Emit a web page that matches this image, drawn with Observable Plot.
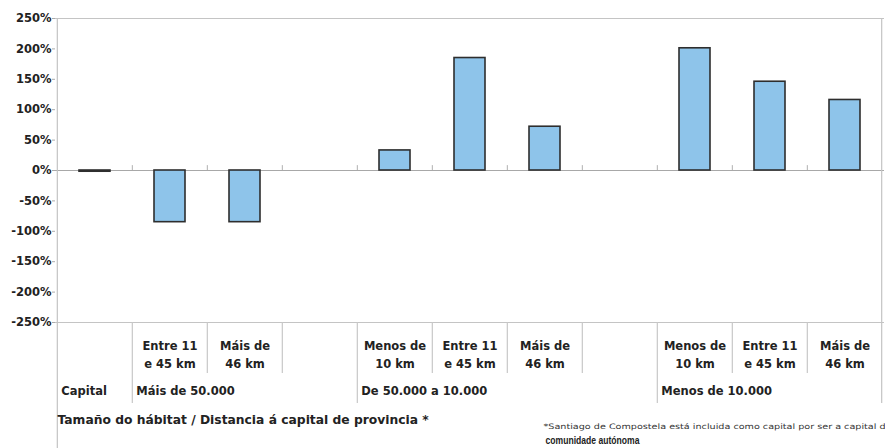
<!DOCTYPE html>
<html><head><meta charset="utf-8">
<script src="https://cdn.jsdelivr.net/npm/d3@7"></script>
<script src="https://cdn.jsdelivr.net/npm/@observablehq/plot@0.6"></script>
<style>body{margin:0;background:#fff} svg{display:block}</style>
</head><body><div id="chart"></div>
<script>
// ---- data ----
const slotIds = ["s0","s1","s2","s3","s4","s5","s6","s7","s8","s9","s10"];
const subLabels = ["", "Entre 11\ne 45 km", "Máis de\n46 km", "", "Menos de\n10 km", "Entre 11\ne 45 km", "Máis de\n46 km", "", "Menos de\n10 km", "Entre 11\ne 45 km", "Máis de\n46 km"];
const slotGroups = ["Capital", "Máis de 50.000", "Máis de 50.000", "Máis de 50.000", "De 50.000 a 10.000", "De 50.000 a 10.000", "De 50.000 a 10.000", "De 50.000 a 10.000", "Menos de 10.000", "Menos de 10.000", "Menos de 10.000"];
const values = [-0.02, -0.85, -0.85, null, 0.33, 1.85, 0.72, null, 2.01, 1.46, 1.16];
const yTicks = [2.5, 2, 1.5, 1, 0.5, 0, -0.5, -1, -1.5, -2, -2.5];
const axisTitle = "Tamaño do hábitat / Distancia á capital de provincia *";
const footnote1 = "*Santiago de Compostela está incluida como capital por ser a capital da";
const footnote2 = "comunidade autónoma";

// ---- layout ----
const W = 885, H = 448, mL = 55, mR = 1, mT = 18, mB = 126;
const step = (W - mL - mR) / slotIds.length;
const frameH = H - mT - mB;
const FONT = "DejaVu Sans, sans-serif";

const rows = slotIds.map((id, i) => ({id, label: subLabels[i], group: slotGroups[i], value: values[i]}));
const bars = rows.filter(d => d.value != null);
const groupStarts = rows.filter((d, i) => i === 0 || d.group !== rows[i - 1].group);
const longSeps = groupStarts.slice(1);
const shortSeps = rows.filter((d, i) => i > 0 && !longSeps.includes(d));

const chart = Plot.plot({
  width: W, height: H,
  marginLeft: mL, marginRight: mR, marginTop: mT, marginBottom: mB,
  style: {fontFamily: FONT, background: "#fff"},
  x: {type: "band", domain: slotIds, padding: 0, axis: null},
  y: {domain: [-2.5, 2.5], axis: null},
  marks: [
    // frame lines
    Plot.ruleY([2.5, -2.5], {stroke: "#c4c4c4", strokeWidth: 1.2}),
    Plot.ruleY([0], {stroke: "#a8a8a8", strokeWidth: 1.2}),
    Plot.ruleX([slotIds[0]], {dx: -step / 2, stroke: "#c4c4c4", strokeWidth: 1.2, insetBottom: -(H - mT - frameH)}),
    Plot.ruleX([slotIds[slotIds.length - 1]], {dx: step / 2 - 1, stroke: "#c4c4c4", strokeWidth: 1.2, insetBottom: -81}),
    // category ticks on zero line
    Plot.ruleX(rows.slice(1), {x: "id", dx: -step / 2, y1: 0, y2: 0.08, stroke: "#b0b0b0"}),
    // table separators below the plot
    Plot.ruleX(shortSeps, {x: "id", dx: -step / 2, stroke: "#c8c8c8", strokeWidth: 1.2, insetTop: frameH, insetBottom: -51}),
    Plot.ruleX(longSeps, {x: "id", dx: -step / 2, stroke: "#c8c8c8", strokeWidth: 1.2, insetTop: frameH, insetBottom: -81}),
    // bars
    Plot.barY(bars, {x: "id", y: "value", fill: "#8ec4ea", stroke: "#2e2e2e", strokeWidth: 1.6, insetLeft: 22, insetRight: 22}),
    // y axis
    Plot.axisY({ticks: yTicks, tickFormat: d => Math.round(d * 100) + "%", tickSize: 3, tickPadding: 1, stroke: "#aaa",
      fontSize: 11.5, fontWeight: "bold", fill: "#222", label: null}),
    // sub-category labels
    Plot.text(rows, {x: "id", text: "label", frameAnchor: "bottom", dy: 31, lineAnchor: "middle", lineHeight: 1.55,
      fontSize: 11.5, fontWeight: "bold", fill: "#222"}),
    // group labels
    Plot.text(groupStarts, {x: "id", text: "group", frameAnchor: "bottom", textAnchor: "start", dx: -step / 2 + 4, dy: 72,
      fontSize: 11.5, fontWeight: "bold", fill: "#222"}),
    // axis title
    Plot.text([axisTitle], {text: d => d, frameAnchor: "bottom-left", textAnchor: "start", dx: 2, dy: 101,
      fontSize: 12.3, fontWeight: "bold", fill: "#222"}),
    // footnote
    Plot.text([footnote1], {text: d => d, frameAnchor: "bottom-left", textAnchor: "start", dx: 488, dy: 106,
      fontSize: 7.5, fill: "#333"}),
    Plot.text([footnote2], {text: d => d, frameAnchor: "bottom-left", textAnchor: "start", dx: 490, dy: 121,
      fontSize: 10, fontWeight: "bold", fill: "#222", fontFamily: "Liberation Sans, Arial, sans-serif"})
  ]
});
d3.select(chart).selectAll("text")
  .filter(function() { return this.textContent === footnote1; })
  .attr("textLength", 348).attr("lengthAdjust", "spacingAndGlyphs");
d3.select(chart).selectAll("text")
  .filter(function() { return this.textContent === footnote2; })
  .attr("textLength", 94).attr("lengthAdjust", "spacingAndGlyphs");
document.getElementById("chart").append(chart);
</script>
</body></html>
